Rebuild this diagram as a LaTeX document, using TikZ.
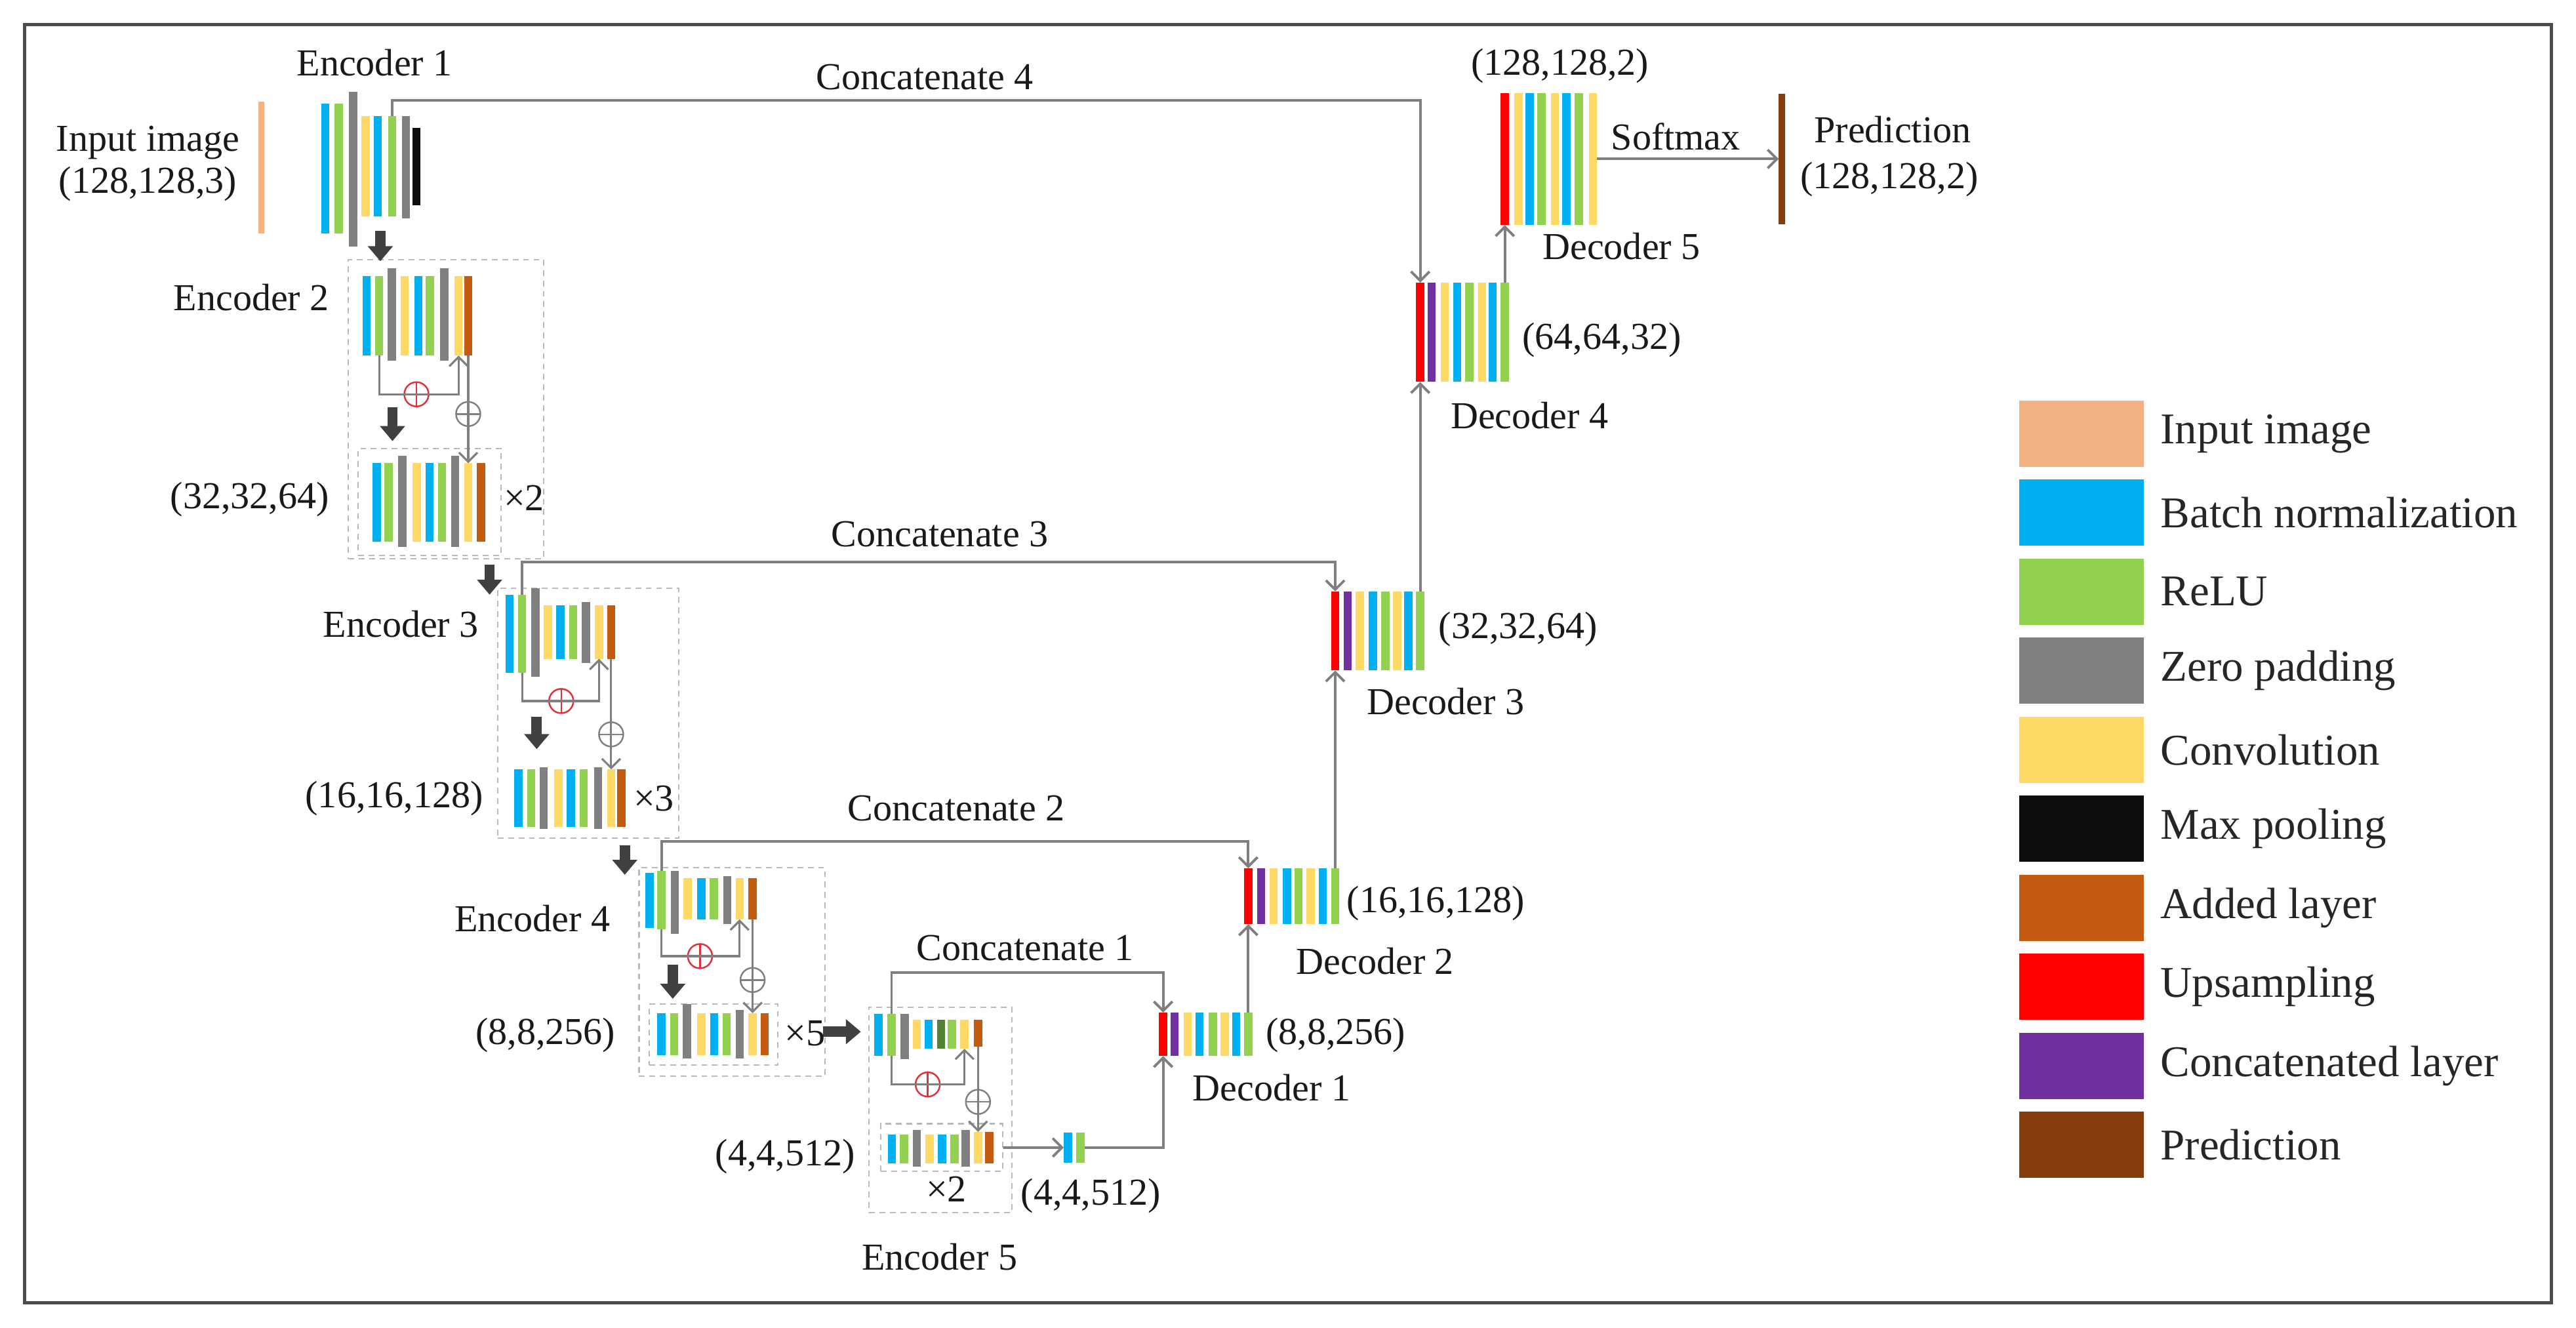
\documentclass[tikz,border=0pt]{standalone}
\usepackage{fontspec}
\setmainfont{Liberation Serif}
\usetikzlibrary{arrows.meta,positioning,fit}

\definecolor{inp}{HTML}{F4B183}
\definecolor{bn}{HTML}{00B0F0}
\definecolor{relu}{HTML}{92D050}
\definecolor{dgreen}{HTML}{548235}
\definecolor{zpad}{HTML}{808080}
\definecolor{conv}{HTML}{FFD966}
\definecolor{mpool}{HTML}{0D0D0D}
\definecolor{addl}{HTML}{C55A11}
\definecolor{upsm}{HTML}{FF0000}
\definecolor{catl}{HTML}{7030A0}
\definecolor{pred}{HTML}{843C0C}
\definecolor{linegray}{HTML}{7F7F7F}
\definecolor{blkgray}{HTML}{404040}
\definecolor{plusred}{HTML}{E0303C}

\tikzset{
  bar/.style={rectangle, inner sep=0pt, outer sep=0pt, minimum width=0.125cm},
  lbl/.style={font=\fontsize{16.5}{19}\selectfont, inner sep=0pt, text=black!90},
  legtxt/.style={font=\fontsize{19}{22}\selectfont, inner sep=0pt, text=black!85},
  swatch/.style={rectangle, inner sep=0pt, minimum width=1.9cm, minimum height=1.01cm},
  concat/.style={draw=linegray, line width=1.1pt, -{Straight Barb[length=4pt,width=8pt]}},
  resid/.style={draw=linegray, line width=0.9pt, -{Straight Barb[length=4pt,width=8pt]}},
  blk/.style={draw=blkgray, line width=4.5pt, -{Triangle[length=6.5pt,width=10.5pt]}},
  encbox/.style={draw=gray!55, dash pattern=on 2.5pt off 2pt, line width=0.6pt, rectangle, inner sep=0pt},
  addop/.style={circle, draw=#1, line width=0.7pt, minimum size=0.37cm, inner sep=0pt,
    path picture={\draw[#1, line width=0.7pt] (path picture bounding box.north) -- (path picture bounding box.south)
      (path picture bounding box.west) -- (path picture bounding box.east);}},
}

\begin{document}
\begin{tikzpicture}[x=0.025cm, y=-0.025cm]
\useasboundingbox (0,0) rectangle (1568,808);
\draw[draw=black!70, line width=1.3pt] (15,15) rectangle (1553,793);

% encoder boxes
\node[encbox, fit={(212,158) (331,340)}] (e2out) {};
\node[encbox, fit={(218,273) (305,338)}] (e2in) {};
\node[encbox, fit={(303,358) (413,510)}] (e3out) {};
\node[encbox, fit={(389,528) (502,655)}] (e4out) {};
\node[encbox, fit={(395.3,611.3) (473.5,648.3)}] (e4in) {};
\node[encbox, fit={(529,613) (616,738)}] (e5out) {};
\node[encbox, fit={(536.1,684) (610.2,713)}] (e5in) {};

% input and encoder 1
\node[bar, fill=inp, minimum width=0.09cm, minimum height=2cm] (inimg) at (159,102) {};
\foreach \xx/\yt/\yb/\cl [count=\i] in {198/63/142/bn, 206.2/63/142/relu, 215/56/150/zpad,
    222.5/70.5/131.7/conv, 230/70.5/131.7/bn, 238.7/70.5/131.7/relu, 247/70.5/133/zpad, 253.5/78/125/mpool}
  \node[bar, fill=\cl, minimum height={(\yb-\yt)*0.025cm}] (e1b\i) at (\xx,{(\yt+\yb)/2}) {};

% encoder 2
\foreach \xx/\yt/\yb/\cl [count=\i] in {223.1/168/216.4/bn, 230.8/168/216.4/relu, 238.5/163.4/219.7/zpad,
    246.3/168/216.4/conv, 254.7/168/216.4/bn, 261.6/168/216.4/relu, 270.4/163.4/219.7/zpad,
    279.1/168/216.4/conv, 285/168/216.4/addl}
  \node[bar, fill=\cl, minimum height={(\yb-\yt)*0.025cm}] (e2a\i) at (\xx,{(\yt+\yb)/2}) {};
\foreach \xx/\yt/\yb/\cl [count=\i] in {229.3/282/329.8/bn, 236.5/282/329.8/relu, 245/277.5/333/zpad,
    253.6/282/329.8/conv, 261.5/282/329.8/bn, 269.1/282/329.8/relu, 277/277.5/333/zpad,
    285/282/329.8/conv, 292.8/282/329.8/addl}
  \node[bar, fill=\cl, minimum height={(\yb-\yt)*0.025cm}] (e2b\i) at (\xx,{(\yt+\yb)/2}) {};

% encoder 3
\foreach \xx/\yt/\yb/\cl [count=\i] in {310.1/362/409.5/bn, 317.8/362/409.5/relu, 325.9/358/412/zpad,
    333.5/368.6/401/conv, 341/368.6/401/bn, 348.9/368.6/401/relu, 356.6/366.6/403.6/zpad,
    364.6/368.6/401/conv, 372/368.6/401/addl}
  \node[bar, fill=\cl, minimum height={(\yb-\yt)*0.025cm}] (e3a\i) at (\xx,{(\yt+\yb)/2}) {};
\foreach \xx/\yt/\yb/\cl [count=\i] in {315.5/468.3/503.3/bn, 323.3/468.3/503.3/relu, 330.9/467/504.6/zpad,
    339.9/468.3/503.3/conv, 347.5/468.3/503.3/bn, 355.3/468.3/503.3/relu, 364.1/467/504.6/zpad,
    372/468.3/503.3/conv, 378.3/468.3/503.3/addl}
  \node[bar, fill=\cl, minimum height={(\yb-\yt)*0.025cm}] (e3b\i) at (\xx,{(\yt+\yb)/2}) {};

% encoder 4
\foreach \xx/\yt/\yb/\cl [count=\i] in {395.3/531.4/565/bn, 402.6/530/565.6/relu, 410.7/530/568.3/zpad,
    418.6/534.7/559.6/conv, 427/534.7/559.6/bn, 434.6/534.7/559.6/relu, 442.7/533.4/562.3/zpad,
    450.2/534.7/559.6/conv, 458.1/534.7/559.6/addl}
  \node[bar, fill=\cl, minimum height={(\yb-\yt)*0.025cm}] (e4a\i) at (\xx,{(\yt+\yb)/2}) {};
\foreach \xx/\yt/\yb/\cl [count=\i] in {402.5/616.7/642.2/bn, 410.3/616.7/642.2/relu, 418.2/611.3/644.3/zpad,
    427/616.7/642.2/conv, 434.8/616.7/642.2/bn, 442.3/616.7/642.2/relu, 450.2/614.7/644.3/zpad,
    458.1/616.7/642.2/conv, 465.4/616.7/642.2/addl}
  \node[bar, fill=\cl, minimum height={(\yb-\yt)*0.025cm}] (e4b\i) at (\xx,{(\yt+\yb)/2}) {};

% encoder 5
\foreach \xx/\yt/\yb/\cl [count=\i] in {534.6/617.1/642.5/bn, 542.7/617.1/642.5/relu, 550.6/617.1/644.6/zpad,
    558/620.7/638.3/conv, 565.2/620.7/638.3/bn, 572.8/620.7/638.3/dgreen, 579.5/620.7/638.3/relu,
    587.1/620.7/638.3/conv, 595.3/620.7/636.9/addl}
  \node[bar, fill=\cl, minimum height={(\yb-\yt)*0.025cm}] (e5a\i) at (\xx,{(\yt+\yb)/2}) {};
\foreach \xx/\yt/\yb/\cl [count=\i] in {542.9/690.4/708/bn, 550.3/690.4/708/relu, 558.1/687.6/710.1/zpad,
    565.8/690.4/708/conv, 573.4/690.4/708/bn, 581/690.4/708/relu, 587.7/687.6/710.1/zpad,
    595.3/689/708/conv, 602.1/689/708/addl}
  \node[bar, fill=\cl, minimum height={(\yb-\yt)*0.025cm}] (e5b\i) at (\xx,{(\yt+\yb)/2}) {};
\node[bar, fill=bn, minimum height=0.465cm] (br1) at (650,698.5) {};
\node[bar, fill=relu, minimum height=0.465cm] (br2) at (657.7,698.5) {};

% decoders
\foreach \xx/\cl [count=\i] in {708/upsm, 715/catl, 722.9/conv, 730.1/bn, 738.2/relu, 745.5/conv, 752.5/bn, 759.8/relu}
  \node[bar, fill=\cl, minimum height=0.6625cm] (d1b\i) at (\xx,629.55) {};
\foreach \xx/\cl [count=\i] in {759.8/upsm, 767.6/catl, 775.3/conv, 783.4/bn, 790.4/relu, 797.8/conv, 805.2/bn, 812.7/relu}
  \node[bar, fill=\cl, minimum height=0.8525cm] (d2b\i) at (\xx,545.55) {};
\foreach \xx/\cl [count=\i] in {812.7/upsm, 820.4/catl, 827.6/conv, 835.6/bn, 843.3/relu, 850.5/conv, 857.2/bn, 864.5/relu}
  \node[bar, fill=\cl, minimum height=1.2025cm] (d3b\i) at (\xx,384.05) {};
\foreach \xx/\cl [count=\i] in {864.5/upsm, 871.5/catl, 879.4/conv, 887/bn, 894.4/relu, 902.2/conv, 908.6/bn, 916/relu}
  \node[bar, fill=\cl, minimum height=1.5125cm] (d4b\i) at (\xx,202.25) {};
\foreach \xx/\cl [count=\i] in {916/upsm, 924.4/conv, 931/bn, 938.2/relu, 946.4/conv, 953.5/bn, 961/relu, 969.7/conv}
  \node[bar, fill=\cl, minimum height=2.0125cm] (d5b\i) at (\xx,96.75) {};
\node[bar, fill=pred, minimum width=0.1cm, minimum height=1.99cm] (pr) at (1084.7,96.75) {};

% add operations
\node[addop=plusred] (e2r) at (253.5,240) {};
\node[addop=plusred] (e3r) at (341.6,426.7) {};
\node[addop=plusred] (e4r) at (426.1,582) {};
\node[addop=plusred] (e5r) at (564.7,660.1) {};
\node[addop=linegray] (e2g) at (285,252) {};
\node[addop=linegray] (e3g) at (372,447) {};
\node[addop=linegray] (e4g) at (458.1,596.5) {};
\node[addop=linegray] (e5g) at (595.3,670.7) {};

% residual paths
\draw[resid] (e2a2.south) |- (e2r.center) -| (e2a8.south);
\draw[resid] (e3a2.south) |- (e3r.center) -| (e3a8.south);
\draw[resid] (e4a2.south) |- (e4r.center) -| (e4a8.south);
\draw[resid] (e5a2.south) |- (e5r.center) -| (e5a8.south);
\draw[resid] (e2a9.south) -- (e2b8.north);
\draw[resid] (e3a9.south) -- (e3b8.north);
\draw[resid] (e4a9.south) -- (e4b8.north);
\draw[resid] (e5a9.south) -- (e5b8.north);

% concatenations
\draw[concat] (e1b6.north) -- ++(0,-9.5) -| (d4b1.north);
\draw[concat] (e3a2.north) -- ++(0,-20) -| (d3b1.north);
\draw[concat] (e4a2.north) -- ++(0,-18) -| (d2b1.north);
\draw[concat] (e5a2.north) -- ++(0,-25) -| (d1b1.north);
\draw[concat] (e5in.east) -- (br1.west);
\draw[concat] (br2.east) -| (d1b1.south);
\draw[concat] (d1b8.north) -- (d2b1.south);
\draw[concat] (d2b8.north) -- (d3b1.south);
\draw[concat] (d3b8.north) -- (d4b1.south);
\draw[concat] (d4b8.north) -- (d5b1.south);
\draw[concat] (d5b8.east) -- (pr.west);

% down-sampling arrows
\foreach \xa/\ya/\xb/\yb [count=\i] in {231.5/140.5/231.5/159, 238.9/248/238.9/268.5, 298/343.5/298/362,
    326.7/436.5/326.7/456, 380.3/514.5/380.3/532.5, 409.5/587/409.5/608, 501/628/524/628} {
  \coordinate (ds\i) at (\xa,\ya);
  \coordinate (de\i) at (\xb,\yb);
  \draw[blk] (ds\i) -- (de\i);
}

% labels
\node[lbl] (le1) at (228,38) {Encoder 1};
\node[lbl] (lin) at (90,87) {Input image};
\node[lbl] (lins) at (90,112) {(128,128,3)};
\node[lbl] (lc4) at (563,47) {Concatenate 4};
\node[lbl] (ld5s) at (949.5,40) {(128,128,2)};
\node[lbl] (lsm) at (1020,83) {Softmax};
\node[lbl] (lpr) at (1152,79) {Prediction};
\node[lbl] (lprs) at (1150,109) {(128,128,2)};
\node[lbl] (ld5) at (987,150) {Decoder 5};
\node[lbl] (le2) at (153,181) {Encoder 2};
\node[lbl] (ld4s) at (975,207) {(64,64,32)};
\node[lbl] (ld4) at (931,253) {Decoder 4};
\node[lbl] (le2s) at (152,304) {(32,32,64)};
\node[lbl] (le2x) at (319,303) {×2};
\node[lbl] (lc3) at (572,325) {Concatenate 3};
\node[lbl] (le3) at (244,380) {Encoder 3};
\node[lbl] (ld3s) at (924,383) {(32,32,64)};
\node[lbl] (ld3) at (880,427) {Decoder 3};
\node[lbl] (le3s) at (240,486) {(16,16,128)};
\node[lbl] (le3x) at (398,486) {×3};
\node[lbl] (lc2) at (582,492) {Concatenate 2};
\node[lbl] (ld2s) at (874,550) {(16,16,128)};
\node[lbl] (le4) at (324,559) {Encoder 4};
\node[lbl] (lc1) at (624,577) {Concatenate 1};
\node[lbl] (ld2) at (837,585) {Decoder 2};
\node[lbl] (le4s) at (332,630) {(8,8,256)};
\node[lbl] (le4x) at (490,629) {×5};
\node[lbl] (ld1s) at (813,630) {(8,8,256)};
\node[lbl] (ld1) at (774,662) {Decoder 1};
\node[lbl] (le5s) at (478,704) {(4,4,512)};
\node[lbl] (le5x) at (576,724) {×2};
\node[lbl] (lbrs) at (664,728) {(4,4,512)};
\node[lbl] (le5) at (572,765) {Encoder 5};

% legend
\foreach \cl/\tx [count=\i] in {inp/Input image, bn/Batch normalization, relu/ReLU, zpad/Zero padding,
    conv/Convolution, mpool/Max pooling, addl/Added layer, upsm/Upsampling,
    catl/Concatenated layer, pred/Prediction} {
  \node[swatch, fill=\cl] (lg\i) at (1267,{264+48.1*(\i-1)}) {};
  \node[legtxt, right=0.24cm of lg\i] (lt\i) {\tx};
}
\end{tikzpicture}
\end{document}
